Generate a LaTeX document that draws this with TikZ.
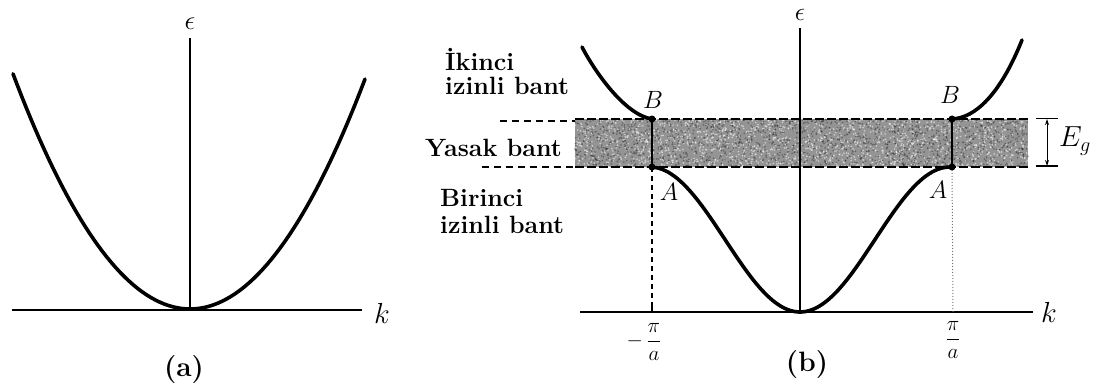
\RequirePackage{fix-cm}
\documentclass[tikz,border=0pt]{standalone}
\usepackage{fontspec}
\usepackage{amsmath}
\usetikzlibrary{arrows.meta}
\begin{document}
\begin{tikzpicture}[x=1pt,y=-1pt,
  axis/.style={line width=1.6pt},
  curve/.style={line width=3.6pt, line cap=round},
  txt/.style={font=\fontsize{25}{25}\selectfont\bfseries, inner sep=0pt, anchor=base west},
  mlab/.style={font=\fontsize{25}{25}\selectfont, inner sep=0pt},
  bandedge/.style={line width=2.5pt, dash pattern=on 9pt off 3pt},
  ext/.style={line width=1.2pt, dash pattern=on 7pt off 5pt},
  bandline/.style={line width=2.4pt},
  caption/.style={font=\fontsize{28}{28}\selectfont\bfseries, inner sep=0pt}]
\useasboundingbox (0,0) rectangle (1102,390);

% ---------- panel (a) ----------
\coordinate (aO) at (190,310);
\coordinate (aTop) at (190,38);
\coordinate (aL) at (12,310);
\coordinate (aR) at (362,310);
\draw[axis] (aL) -- (aR);
\draw[axis] (aO) -- (aTop);
\draw[curve] plot[domain=-177:175,samples=80] ({190+\x},{309-0.0075*(\x)*(\x)});
\node[mlab, font=\fontsize{27}{27}\selectfont] (aeps) at (190,24) {$\epsilon$};
\node[mlab, font=\fontsize{29}{29}\selectfont] (ak) at (382,313) {$k$};
\node[caption] (alab) at (184,370) {(a)};

% ---------- panel (b) ----------
\coordinate (bO) at (800,312);
\coordinate (bTop) at (800,28);
\coordinate (bL) at (580,312);
\coordinate (bR) at (1033,312);
\coordinate (B1) at (652,119);
\coordinate (A1) at (652,167);
\coordinate (B2) at (952,119);
\coordinate (A2) at (952,167);
\coordinate (tickL) at (652,312);
\coordinate (tickR) at (953,312);

% forbidden band
\fill[black!42] (575,119) rectangle (1028,167);
\pgfmathsetseed{7}
\foreach \i in {1,...,1600} {\fill[white,opacity=0.55] ({575+453*rnd},{119+48*rnd}) circle (0.9pt);}
\foreach \i in {1,...,1600} {\fill[black!85,opacity=0.45] ({575+453*rnd},{119+48*rnd}) circle (0.9pt);}
\draw[bandedge] (575,119) -- (1028,119);
\draw[bandedge] (575,167) -- (1028,167);
\draw[ext] (500,121) -- (575,121);
\draw[ext] (482,167) -- (575,167);

% axes
\draw[axis] (bL) -- (bR);
\draw[axis] (bO) -- (bTop);

% band edge verticals
\draw[bandline] (B1) -- (A1);
\draw[bandline] (B2) -- (A2);
\draw[line width=1.1pt, dash pattern=on 5pt off 4pt] (A1) -- (tickL);
\draw[line width=1.2pt] (652,302) -- (tickL);
\draw[black!55, line width=1pt, dotted] (A2) -- (tickR);

% curves
\draw[curve] (582,47) .. controls (595,72) and (625,115) .. (B1);
\draw[curve] (B2) .. controls (975,118) and (1000,95) .. (1022,40);
\draw[curve] plot[domain=-150:150, samples=100] ({800+\x},{312-72.5*(1-cos(1.2*(\x)))});
\fill (B1) circle (3.5pt);
\fill (A1) circle (3.5pt);
\fill (B2) circle (3.5pt);
\fill (A2) circle (3.5pt);

% E_g bracket
\coordinate (EgT) at (1047,119);
\coordinate (EgB) at (1047,166);
\draw[line width=1pt] (1036,119) -- (1058,119);
\draw[line width=1.4pt] (1036,166) -- (1058,166);
\draw[line width=0.9pt, {Stealth[length=6pt,width=4pt]}-{Stealth[length=6pt,width=4pt]}] (EgT) -- (EgB);
\node[mlab, font=\fontsize{29}{29}\selectfont, anchor=west] (Eg) at (1059,141) {$E_g$};

% labels
\node[mlab, font=\fontsize{26}{26}\selectfont] (beps) at (800,15) {$\epsilon$};
\node[mlab, font=\fontsize{29}{29}\selectfont] (bk) at (1049,312) {$k$};
\node[mlab] (Bl) at (653,100) {$B$};
\node[mlab] (Br) at (950,95) {$B$};
\node[mlab] (Al) at (669,192) {$A$};
\node[mlab] (Ar) at (938,190) {$A$};
\node[mlab, font=\fontsize{21}{21}\selectfont] (mpia) at (644,342) {$-\,\dfrac{\pi}{a}$};
\node[mlab, font=\fontsize{21}{21}\selectfont] (pia) at (953,340) {$\dfrac{\pi}{a}$};

\node[txt] (ik1) at (445,71) {İkinci};
\node[txt] (ik2) at (445,95) {izinli bant};
\node[txt] (yb) at (425,157) {Yasak bant};
\node[txt] (bi1) at (440,207) {Birinci};
\node[txt] (bi2) at (440,233) {izinli bant};

\node[caption] (blab) at (807,365) {(b)};
\end{tikzpicture}
\end{document}
